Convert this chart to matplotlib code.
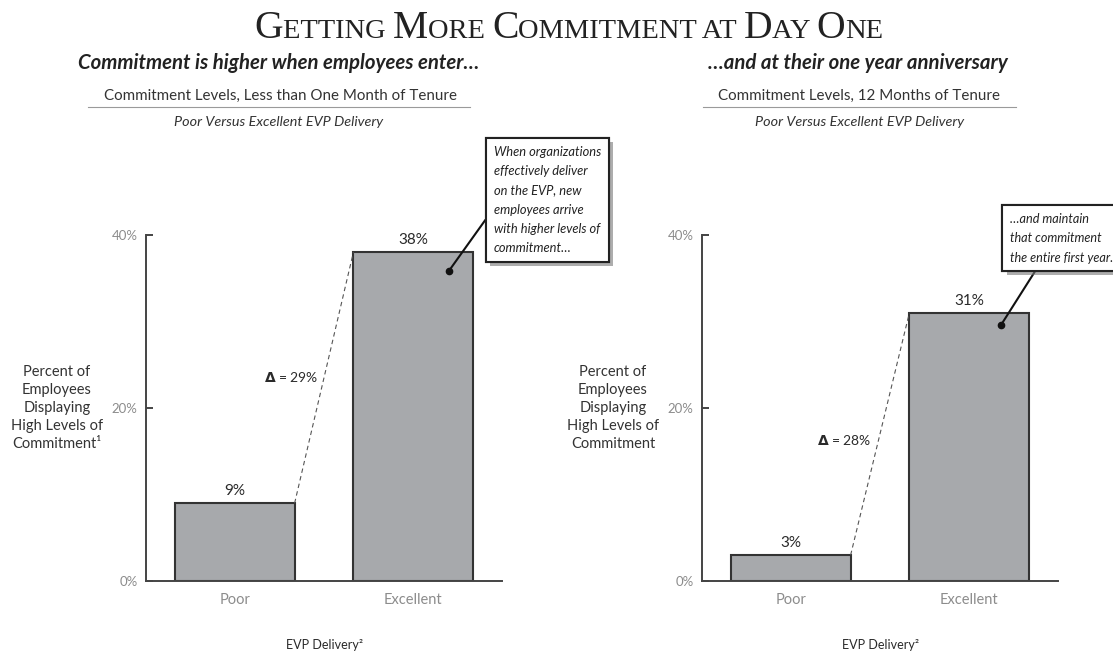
import matplotlib
matplotlib.use("Agg")
import matplotlib.pyplot as plt
from matplotlib.lines import Line2D
import matplotlib.patheffects as pe

plt.rcParams['font.family'] = ['Lato', 'DejaVu Sans']

# ---------------- data ----------------
categories = ["Poor", "Excellent"]
left_values = [9, 38]
right_values = [3, 31]
yticks = [0, 20, 40]
ytick_labels = ["0%", "20%", "40%"]

title = "Getting More Commitment at Day One"
left_heading = "Commitment is higher when employees enter…"
right_heading = "…and at their one year anniversary"
left_sub = "Commitment Levels, Less than One Month of Tenure"
right_sub = "Commitment Levels, 12 Months of Tenure"
subsub = "Poor Versus Excellent EVP Delivery"
left_ylabel = "Percent of\nEmployees\nDisplaying\nHigh Levels of\nCommitment¹"
right_ylabel = "Percent of\nEmployees\nDisplaying\nHigh Levels of\nCommitment"
xlabel = "EVP Delivery²"
left_callout = ("When organizations\neffectively deliver\non the EVP, new\n"
                "employees arrive\nwith higher levels of\ncommitment…")
right_callout = "…and maintain\nthat commitment\nthe entire first year."

W, H = 1113, 655
fig = plt.figure(figsize=(W / 100, H / 100), dpi=100)

BAR_COLOR = "#a7a9ac"
EDGE = "#333333"
GRAY = "#8c8c8c"
DARK = "#2a2a2a"


def px(x, y):
    """pixel (from top-left) -> figure fraction"""
    return x / W, 1 - y / H


# ---------------- title in small caps ----------------
def small_caps(text, xc, ybase_px, big, small, family="Liberation Serif"):
    renderer = fig.canvas.get_renderer()
    runs = []
    for ch in text:
        size = big if ch.isupper() else small
        c = ch.upper()
        if runs and runs[-1][1] == size:
            runs[-1][0] += c
        else:
            runs.append([c, size])
    objs = []
    total = 0
    for s, size in runs:
        t = fig.text(0, 0, s, fontsize=size, family=family, color="#222222",
                     va="baseline", ha="left")
        w = t.get_window_extent(renderer).width
        objs.append((t, w))
        total += w
    x = xc - total / 2
    for t, w in objs:
        t.set_position((x / W, 1 - ybase_px / H))
        x += w


small_caps(title, 569, 38, 28.5, 20.5)

# ---------------- headings ----------------
for xc, txt in [(279, left_heading), (858, right_heading)]:
    fig.text(*px(xc, 63), txt, fontsize=14.7, fontweight="bold", fontstyle="italic",
             ha="center", va="center", color="#222222")
for xc, txt, x0, x1 in [(280, left_sub, 88, 470), (859, right_sub, 703, 1016)]:
    fig.text(*px(xc, 96), txt, fontsize=10.9, ha="center", va="center", color="#333333")
    fig.add_artist(Line2D([x0 / W, x1 / W], [1 - 107 / H] * 2, color="#9a9a9a", lw=0.8))
for xc in (279, 860):
    fig.text(*px(xc, 122), subsub, fontsize=10.4, fontstyle="italic",
             ha="center", va="center", color="#333333")


# ---------------- bar panels ----------------
def panel(left_px, values, ylabel, delta_pos, callout, callout_pos, relpos, dot, cfs):
    ax = fig.add_axes([left_px / W, (H - 581) / H, 356 / W, 346 / H])
    x = list(range(len(categories)))
    width = 0.67
    ax.bar(x, values, width=width, color=BAR_COLOR, edgecolor=EDGE, linewidth=1.5, zorder=2)
    ax.set_xlim(-0.5, 1.5)
    ax.set_ylim(0, 40)
    for s in ("top", "right"):
        ax.spines[s].set_visible(False)
    for s in ("left", "bottom"):
        ax.spines[s].set_color("#444444")
        ax.spines[s].set_linewidth(1.4)
    ax.set_yticks(yticks)
    ax.set_yticklabels(ytick_labels)
    ax.tick_params(axis="y", direction="in", length=5, width=1.4, colors="#444444",
                   labelcolor=GRAY, labelsize=9.5, pad=6)
    ax.set_xticks(x)
    ax.set_xticklabels(categories)
    ax.tick_params(axis="x", length=0, labelcolor=GRAY, labelsize=10.5, pad=9)
    for xi, v in zip(x, values):
        ax.text(xi, v + 0.6, f"{v}%", ha="center", va="bottom", fontsize=11, color=DARK)
    # dashed connector between bar tops
    ax.plot([x[0] + width / 2, x[1] - width / 2], [values[0], values[1]],
            ls=(0, (4, 3)), lw=0.8, color="#555555", zorder=3)
    dx, dy = delta_pos
    ax.text(dx, dy, r"$\mathbf{\Delta}$" + f" = {values[1] - values[0]}%", ha="right",
            va="center", fontsize=10, color=DARK)
    ax.text(-0.25, 0.50, ylabel, transform=ax.transAxes, ha="center", va="center",
            fontsize=10.5, color="#333333", linespacing=1.38)
    ax.text(0.5, -0.185, xlabel, transform=ax.transAxes, ha="center", va="center",
            fontsize=9, color=DARK)
    # callout
    ax.plot([dot[0]], [dot[1]], "o", color="#111111", ms=4.5, zorder=5)
    ann = ax.annotate(callout, xy=dot, xycoords="data",
                      xytext=(callout_pos[0], H - callout_pos[1]), textcoords="figure pixels",
                      ha="left", va="top", fontsize=cfs, fontstyle="italic", color="#222222",
                      linespacing=1.73, annotation_clip=False,
                      bbox=dict(boxstyle="square,pad=0.6", fc="white", ec="#222222", lw=1.5),
                      arrowprops=dict(arrowstyle="-", color="#111111", lw=1.5,
                                      shrinkA=0, shrinkB=0, relpos=relpos),
                      zorder=6)
    ann.get_bbox_patch().set_path_effects(
        [pe.withSimplePatchShadow(offset=(3, -3), shadow_rgbFace="#777777", alpha=0.6), pe.Normal()])
    return ax


panel(146, left_values, left_ylabel, (0.47, 23.6), left_callout, (494, 146), (0, 0.43), (1.2, 35.8), 9.3)
panel(702, right_values, right_ylabel, (0.45, 16.3), right_callout, (1010, 213), (0.29, 0), (1.18, 29.6), 9.1)

fig.savefig("out.png", dpi=100)
